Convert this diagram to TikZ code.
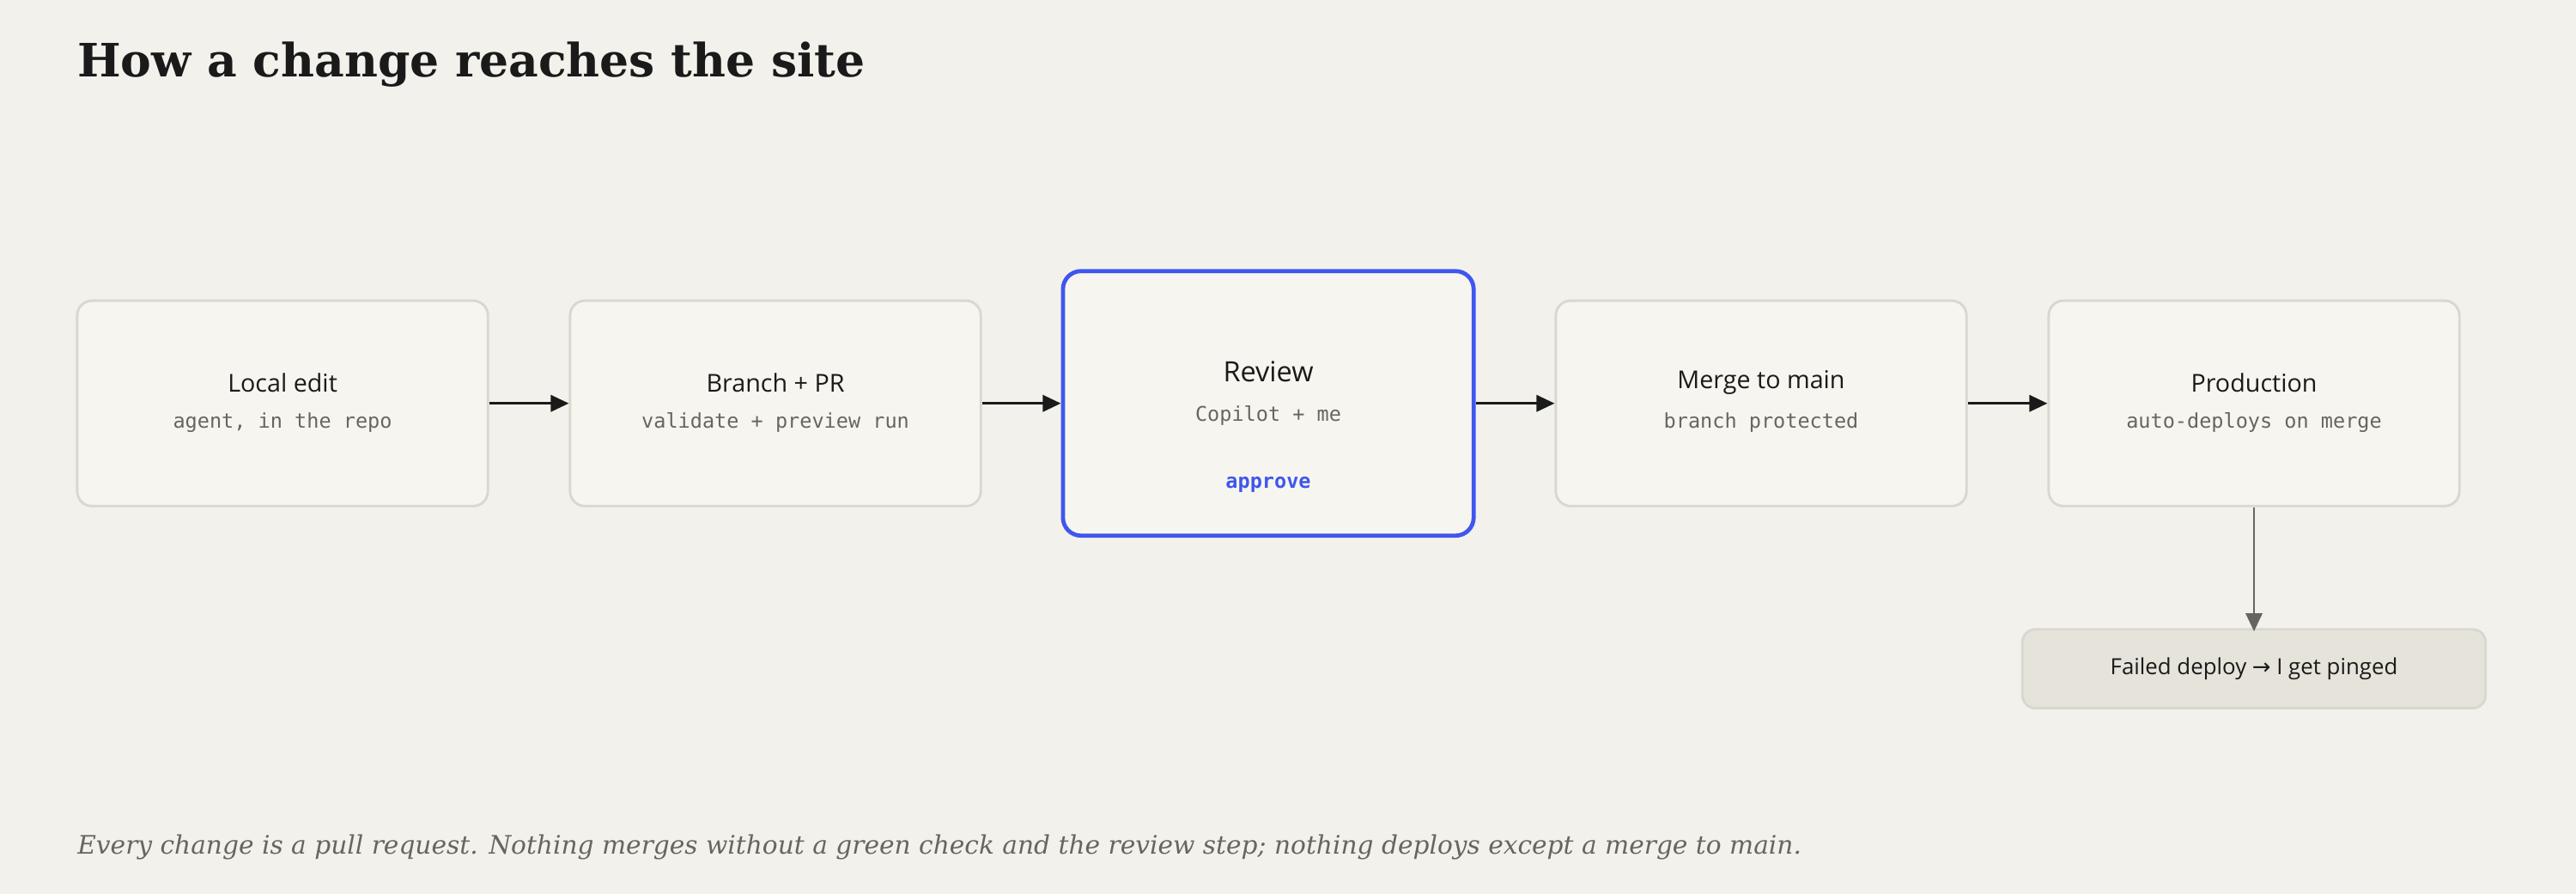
\documentclass[tikz,border=0pt]{standalone}
\usepackage{fontspec}
\setmainfont{DejaVu Serif}
\setsansfont{Open Sans}
\setmonofont{DejaVu Sans Mono}
\newfontfamily\symf{DejaVu Sans}
\usetikzlibrary{arrows.meta}
\definecolor{bg}{HTML}{F2F1EC}
\definecolor{boxfill}{HTML}{F7F5EF}
\definecolor{boxline}{HTML}{D9D7CF}
\definecolor{blu}{HTML}{3F56EE}
\definecolor{failfill}{HTML}{E6E3DA}
\definecolor{ink}{HTML}{1A1A1A}
\definecolor{sub}{HTML}{666660}
\begin{document}
\begin{tikzpicture}[x=1pt,y=-1pt,
  box/.style={draw=boxline,line width=1.5pt,fill=boxfill,rounded corners=9pt,minimum width=250pt,minimum height=125pt,inner sep=0pt},
  hi/.style={draw=blu,line width=2.5pt,fill=boxfill,rounded corners=11pt,minimum width=250pt,minimum height=161pt,inner sep=0pt},
  ttl/.style={font=\sffamily\fontsize{15}{18}\selectfont,text=ink},
  mono/.style={font=\ttfamily\fontsize{12.3}{15}\selectfont,text=sub},
  arr/.style={-{Triangle[length=11pt,width=10pt]},line width=1.6pt,draw=ink}]
\fill[bg] (0,0) rectangle (1568,544);
\useasboundingbox (0,0) rectangle (1568,544);
\node[anchor=base west,inner sep=0pt,font=\bfseries\fontsize{28}{32}\selectfont,text=ink] (title) at (47,47) {How a change reaches the site};
\node[box] (a) at (172,245.5) {};
\node[box] (b) at (472,245.5) {};
\node[hi] (c) at (772,245.5) {};
\node[box] (d) at (1072,245.5) {};
\node[box] (e) at (1372,245.5) {};
\node[ttl] (at) at (172,233) {Local edit};
\node[mono] (as) at (172,257) {agent, in the repo};
\node[ttl] (bt) at (472,233) {Branch + PR};
\node[mono] (bs) at (472,257) {validate + preview run};
\node[ttl,font=\sffamily\fontsize{17}{20}\selectfont] (ct) at (772,226) {Review};
\node[mono] (cs) at (772,253) {Copilot + me};
\node[mono,text=blu,font=\ttfamily\bfseries\fontsize{12.3}{15}\selectfont] (cp) at (772,295) {approve};
\node[ttl] (dt) at (1072,233) {Merge to main};
\node[mono] (ds) at (1072,257) {branch protected};
\node[ttl] (et) at (1372,233) {Production};
\node[mono] (es) at (1372,257) {auto-deploys on merge};
\node[draw=boxline,line width=1.5pt,fill=failfill,rounded corners=8pt,minimum width=282pt,minimum height=48pt,font=\sffamily\fontsize{13.5}{16}\selectfont,text=ink] (f) at (1372,407) {Failed deploy {\symf →} I get pinged};
\draw[arr] (a.east) -- (b.west);
\draw[arr] (b.east) -- (c.west);
\draw[arr] (c.east) -- (d.west);
\draw[arr] (d.east) -- (e.west);
\draw[arr,draw=sub,line width=1.5pt] (e.south) -- ([yshift=-2pt]f.north);
\node[anchor=base west,inner sep=0pt,font=\itshape\fontsize{15.5}{19}\selectfont,text=sub] (cap) at (47,520) {Every change is a pull request. Nothing merges without a green check and the review step; nothing deploys except a merge to main.};
\end{tikzpicture}
\end{document}
